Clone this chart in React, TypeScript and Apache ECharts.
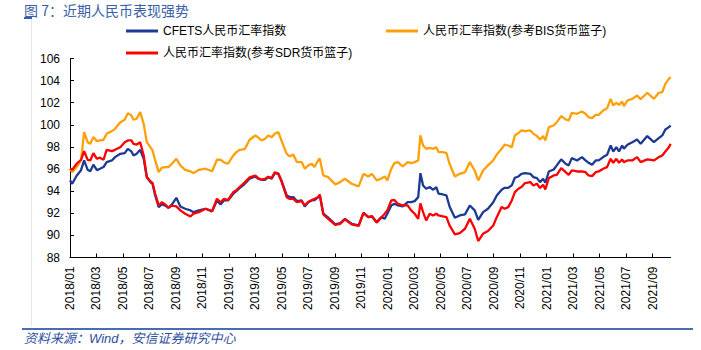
import React, { useEffect, useRef } from "react";
import * as echarts from "echarts";

const dates = [
  "2018-01-01","2018-01-06","2018-01-16","2018-01-26","2018-02-03","2018-02-11","2018-02-17","2018-02-24",
  "2018-03-02","2018-03-09","2018-03-17","2018-03-24","2018-04-06","2018-04-13","2018-04-25","2018-05-05",
  "2018-05-12","2018-05-20","2018-05-25","2018-06-02","2018-06-10","2018-06-18","2018-06-25","2018-07-03",
  "2018-07-08","2018-07-14","2018-07-22","2018-07-29","2018-08-07","2018-08-14","2018-08-22","2018-09-02",
  "2018-09-11","2018-09-22","2018-10-04","2018-10-11","2018-10-23","2018-11-08","2018-11-23","2018-12-04",
  "2018-12-12","2018-12-20","2018-12-29","2019-01-11","2019-01-18","2019-01-26","2019-02-07","2019-02-18",
  "2019-03-01","2019-03-08","2019-03-15","2019-03-23","2019-03-30","2019-04-08","2019-04-15","2019-04-23",
  "2019-04-30","2019-05-12","2019-05-19","2019-05-27","2019-06-05","2019-06-16","2019-06-23","2019-07-01",
  "2019-07-09","2019-07-15","2019-07-24","2019-07-27","2019-08-05","2019-08-16","2019-09-02","2019-09-13",
  "2019-09-24","2019-10-09","2019-10-25","2019-11-06","2019-11-17","2019-11-25","2019-12-06","2019-12-16",
  "2019-12-24","2019-12-30","2020-01-09","2020-01-16","2020-01-24","2020-02-05","2020-02-16","2020-02-24",
  "2020-03-02","2020-03-10","2020-03-15","2020-03-21","2020-03-28","2020-04-06","2020-04-14","2020-04-21",
  "2020-04-26","2020-05-06","2020-05-14","2020-05-21","2020-06-03","2020-06-14","2020-06-26","2020-07-07",
  "2020-07-18","2020-07-26","2020-08-07","2020-08-18","2020-08-30","2020-09-08","2020-09-19","2020-09-26",
  "2020-10-04","2020-10-12","2020-10-19","2020-10-27","2020-11-04","2020-11-12","2020-11-24","2020-12-01",
  "2020-12-09","2020-12-16","2020-12-23","2020-12-28","2021-01-06","2021-01-17","2021-01-24","2021-02-04",
  "2021-02-14","2021-02-21","2021-02-28","2021-03-10","2021-03-21","2021-03-29","2021-04-06","2021-04-14",
  "2021-04-22","2021-04-29","2021-05-09","2021-05-18","2021-05-26","2021-06-02","2021-06-09","2021-06-15",
  "2021-06-22","2021-06-26","2021-07-04","2021-07-15","2021-07-26","2021-08-04","2021-08-19","2021-09-04",
  "2021-09-15","2021-09-23","2021-09-30","2021-10-08","2021-10-12",
];

// CFETS 人民币汇率指数
const cfets = [
  94.97,94.67,95.40,95.90,96.78,95.93,95.80,96.39,
  95.90,96.03,96.18,96.63,96.78,97.08,97.38,97.44,
  97.83,97.60,97.23,97.38,97.74,96.93,95.27,94.82,
  94.67,93.61,92.56,92.80,92.70,92.50,92.80,93.40,
  92.62,92.41,92.26,92.10,92.26,92.41,92.17,93.16,
  92.80,93.16,93.16,93.77,94.00,94.31,94.67,95.12,
  95.33,95.12,95.03,95.03,95.27,95.12,95.63,95.57,
  94.97,93.61,93.46,93.46,93.10,93.16,92.62,93.00,
  93.16,93.20,93.46,93.60,91.96,91.60,91.00,91.10,
  91.50,91.05,90.90,92.01,91.65,91.70,91.20,91.65,
  91.50,91.96,92.71,92.86,92.71,92.62,93.00,93.00,
  93.10,93.46,95.63,94.52,94.22,94.37,94.13,94.37,
  93.77,93.70,93.61,92.62,91.60,91.80,91.90,92.71,
  92.26,91.41,92.10,92.41,93.00,93.61,94.13,94.30,
  94.30,94.52,95.21,95.33,95.57,95.63,95.57,95.27,
  95.18,94.82,95.12,94.76,95.78,95.96,96.33,96.87,
  96.48,96.33,96.99,96.78,97.08,96.78,96.57,96.39,
  96.78,96.78,97.08,97.29,98.13,97.59,97.98,97.59,
  98.13,97.83,98.19,98.43,98.68,98.28,98.98,98.43,
  98.80,99.04,99.58,99.79,99.94,
];

// 人民币汇率指数(参考BIS货币篮子)
const bis = [
  96.03,95.72,96.18,96.78,99.34,98.43,98.28,98.89,
  98.52,98.59,98.65,99.19,99.43,99.64,100.24,100.46,
  101.06,100.85,100.46,100.55,101.15,100.09,98.43,97.98,
  97.68,96.78,95.72,96.12,96.18,96.18,96.48,96.93,
  96.33,95.93,95.80,95.63,95.93,96.03,95.80,96.84,
  96.84,96.60,96.48,97.23,97.53,97.74,97.80,98.65,
  99.04,98.83,98.59,98.74,99.04,98.89,99.19,99.34,
  98.59,97.38,97.14,97.32,96.63,96.63,96.03,96.33,
  96.48,96.18,96.84,96.93,95.42,95.27,94.61,94.82,
  95.12,94.67,94.43,95.57,95.33,95.57,94.97,95.12,
  95.33,94.97,96.03,96.54,96.63,96.23,96.63,96.54,
  96.63,96.78,99.04,98.13,97.83,97.92,97.83,97.98,
  97.53,97.53,97.44,96.48,95.33,95.57,95.72,96.63,
  95.87,94.97,95.87,96.33,96.78,97.32,97.83,98.22,
  98.13,97.98,99.04,99.25,99.49,99.43,99.49,99.19,
  99.00,98.68,99.00,98.59,99.79,99.94,100.24,100.79,
  100.49,100.39,101.09,101.00,101.21,101.00,100.70,100.60,
  100.90,100.90,101.30,101.50,102.35,101.75,101.99,101.80,
  102.10,101.69,102.20,102.35,102.65,102.32,102.90,102.35,
  102.90,102.95,103.71,104.16,104.31,
];

// 人民币汇率指数(参考SDR货币篮子)
const sdr = [
  96.03,95.93,96.48,96.84,97.62,96.84,96.78,97.44,
  96.93,97.03,96.84,97.74,97.62,97.74,97.98,98.43,
  98.59,98.59,98.28,98.22,98.43,97.23,95.27,94.90,
  94.73,93.77,92.71,93.00,92.80,92.50,92.70,92.62,
  92.26,91.96,91.71,91.96,92.10,92.41,92.20,93.31,
  93.00,93.31,93.20,93.90,94.10,94.40,94.80,95.25,
  95.40,95.15,95.05,95.10,95.30,95.20,95.70,95.60,
  94.90,93.46,93.30,93.30,93.00,93.10,92.70,93.05,
  93.20,93.30,93.50,93.70,91.90,91.50,90.95,91.05,
  91.45,91.00,90.85,92.05,91.65,91.75,91.15,91.60,
  91.96,92.26,93.16,93.20,92.86,92.71,92.71,92.26,
  91.96,91.50,92.90,92.10,91.35,91.96,91.80,91.96,
  91.80,91.71,91.65,90.90,90.09,90.21,90.60,91.50,
  90.60,89.49,90.15,90.39,90.90,91.65,92.56,92.41,
  92.56,93.16,93.91,94.22,94.37,94.73,94.82,94.52,
  94.67,94.28,94.58,94.16,95.18,95.42,95.48,96.08,
  95.72,95.48,95.87,95.78,95.78,95.72,95.42,95.36,
  95.72,95.78,96.03,96.18,96.93,96.57,96.93,96.57,
  96.87,96.63,96.78,96.78,97.08,96.63,96.87,96.78,
  97.08,97.23,97.59,97.98,98.28,
];

const tickLabels = [
  "2018/01","2018/03","2018/05","2018/07","2018/09","2018/11",
  "2019/01","2019/03","2019/05","2019/07","2019/09","2019/11",
  "2020/01","2020/03","2020/05","2020/07","2020/09","2020/11",
  "2021/01","2021/03","2021/05","2021/07","2021/09",
];

const seriesNames = [
  "CFETS人民币汇率指数",
  "人民币汇率指数(参考BIS货币篮子)",
  "人民币汇率指数(参考SDR货币篮子)",
];

const FONT = "'Liberation Sans', Arial, 'Noto Sans CJK SC', sans-serif";

function dateToMonth(d: string): number {
  const [y, m, day] = d.split("-").map(Number);
  return (y - 2018) * 12 + (m - 1) + (day - 1) / 30;
}
function labelToMonth(l: string): number {
  const [y, m] = l.split("/").map(Number);
  return (y - 2018) * 12 + (m - 1);
}
function monthToLabel(v: number): string {
  const idx = Math.round(v);
  const y = 2018 + Math.floor(idx / 12);
  const m = (idx % 12) + 1;
  return `${y}/${m < 10 ? "0" + m : m}`;
}

export default function App() {
  const ref = useRef<HTMLDivElement>(null);

  useEffect(() => {
    document.body.style.margin = "0";
    if (!ref.current) return;
    const chart = echarts.init(ref.current, undefined, { renderer: "svg" });
    const xs = dates.map(dateToMonth);
    const tickPos = tickLabels.map(labelToMonth);
    const mk = (vals: number[]) => xs.map((x, i) => [x, vals[i]]);

    const legendBase = {
      orient: "horizontal" as const,
      itemWidth: 32,
      itemHeight: 3,
      icon: "rect",
      selectedMode: false,
      padding: 0,
      textStyle: { fontSize: 12, color: "#000", fontFamily: FONT, lineHeight: 14 },
    };

    chart.setOption({
      animation: false,
      backgroundColor: "#fff",
      grid: { left: 70, right: 30.3, top: 58.5, bottom: 92.5, containLabel: false },
      legend: [
        { ...legendBase, data: [seriesNames[0]], left: 126, top: 24 },
        { ...legendBase, data: [seriesNames[1]], left: 386, top: 24 },
        { ...legendBase, data: [seriesNames[2]], left: 126, top: 46 },
      ],
      xAxis: {
        type: "value",
        min: 0,
        max: 45.37,
        axisLine: { show: true, onZero: false, lineStyle: { color: "#000", width: 1 } },
        axisTick: { show: true, inside: true, length: 4, customValues: tickPos, lineStyle: { color: "#000" } },
        axisLabel: {
          customValues: tickPos,
          rotate: 90,
          margin: 9,
          fontSize: 12,
          color: "#000",
          fontFamily: FONT,
          formatter: (v: number) => monthToLabel(v),
        },
        splitLine: { show: false },
      },
      yAxis: {
        type: "value",
        min: 88,
        max: 106,
        interval: 2,
        axisLine: { show: true, lineStyle: { color: "#000", width: 1 } },
        axisTick: { show: true, inside: true, length: 4, lineStyle: { color: "#000" } },
        axisLabel: { margin: 10, fontSize: 12, color: "#000", fontFamily: FONT },
        splitLine: { show: false },
      },
      series: [
        {
          name: seriesNames[0], type: "line", data: mk(cfets), symbol: "none",
          color: "#1c3a94", lineStyle: { width: 2.3, color: "#1c3a94" },
        },
        {
          name: seriesNames[1], type: "line", data: mk(bis), symbol: "none",
          color: "#ffa00a", lineStyle: { width: 2.3, color: "#ffa00a" },
        },
        {
          name: seriesNames[2], type: "line", data: mk(sdr), symbol: "none",
          color: "#ff0000", lineStyle: { width: 2.3, color: "#ff0000" },
        },
      ],
      graphic: [
        {
          type: "text", x: 24, y: 10,
          style: {
            text: "图 7：近期人民币表现强势", fill: "#3a5fa6",
            fontSize: 14, lineHeight: 14, fontFamily: "'Noto Sans CJK SC', sans-serif",
            align: "left", verticalAlign: "middle",
          },
        },
        {
          type: "line", shape: { x1: 24, y1: 18, x2: 32, y2: 18 },
          style: { stroke: "#3a5fa6", lineWidth: 2 },
        },
        {
          type: "line", shape: { x1: 31.5, y1: 19, x2: 31.5, y2: 327 },
          style: { stroke: "#e6e6e6", lineWidth: 1 },
        },
        {
          type: "line", shape: { x1: 22, y1: 329, x2: 693, y2: 329 },
          style: { stroke: "#4a6cb0", lineWidth: 2 },
        },
        {
          type: "text", x: 24, y: 338,
          style: {
            text: "资料来源：Wind，安信证券研究中心", fill: "#2f4f9e",
            fontSize: 13, fontStyle: "italic",
            fontFamily: "'Liberation Sans', Arial, 'Noto Sans CJK SC', sans-serif",
            align: "left", verticalAlign: "middle",
          },
        },
      ],
    });
    return () => chart.dispose();
  }, []);

  return <div ref={ref} style={{ width: 701, height: 350 }} />;
}
